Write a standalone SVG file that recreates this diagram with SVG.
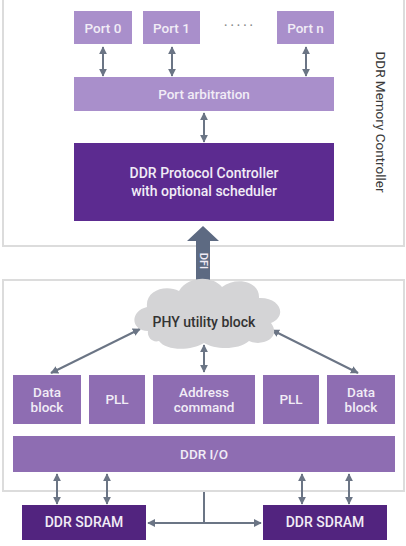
<svg xmlns="http://www.w3.org/2000/svg" width="406" height="546" viewBox="0 0 406 546">
<defs>
<style>
.frame{fill:#fff;stroke:#dcdcdc;stroke-width:2}
.lp{fill:#a98fcb}
.mp{fill:#8e6db2}
.dp{fill:#5c2b90}
.sd{fill:#52247f}
.t{font-family:Roboto,"Liberation Sans",sans-serif;font-size:13.5px;font-weight:500;fill:#f1ecf6;text-anchor:middle;dominant-baseline:central}
.dk{fill:#333}
.c{stroke:#6b7585;stroke-width:2;fill:none}
</style>
<marker id="ah" viewBox="0 0 10 10" refX="9" refY="5" markerWidth="4" markerHeight="4" orient="auto-start-reverse">
<path d="M0,0 L10,5 L0,10 z" fill="#6b7585"/>
</marker>
</defs>
<rect width="406" height="546" fill="#fff"/>
<g id="controller-frame">
<rect class="frame" x="3" y="-5" width="401" height="251"/>
<text class="t dk" style="font-weight:400;font-size:13.5px;fill:#3a3a3a" transform="translate(381,122) rotate(90)">DDR Memory Controller</text>
</g>
<g id="phy-frame">
<rect class="frame" x="3" y="280" width="401" height="211"/>
</g>
<g id="connectors">
<line class="c" x1="103" y1="47" x2="103" y2="76" marker-start="url(#ah)" marker-end="url(#ah)"/>
<line class="c" x1="172" y1="47" x2="172" y2="76" marker-start="url(#ah)" marker-end="url(#ah)"/>
<line class="c" x1="306" y1="47" x2="306" y2="76" marker-start="url(#ah)" marker-end="url(#ah)"/>
<line class="c" x1="204" y1="113" x2="204" y2="142" marker-start="url(#ah)" marker-end="url(#ah)"/>
<line class="c" x1="140" y1="329" x2="51" y2="373" marker-start="url(#ah)" marker-end="url(#ah)"/>
<line class="c" x1="272" y1="330" x2="358" y2="373" marker-start="url(#ah)" marker-end="url(#ah)"/>
<line class="c" x1="204" y1="345" x2="204" y2="372" marker-start="url(#ah)" marker-end="url(#ah)"/>
<line class="c" x1="57" y1="474" x2="57" y2="504" marker-start="url(#ah)" marker-end="url(#ah)"/>
<line class="c" x1="107" y1="474" x2="107" y2="504" marker-start="url(#ah)" marker-end="url(#ah)"/>
<line class="c" x1="302" y1="474" x2="302" y2="504" marker-start="url(#ah)" marker-end="url(#ah)"/>
<line class="c" x1="349" y1="474" x2="349" y2="504" marker-start="url(#ah)" marker-end="url(#ah)"/>
<line class="c" x1="204" y1="492" x2="204" y2="523"/>
<line class="c" x1="148" y1="523" x2="261" y2="523" marker-start="url(#ah)" marker-end="url(#ah)"/>
</g>
<g id="dfi">
<path d="M203,226 L219,241 L210,241 L210,284 L219,284 L203,299 L187,284 L196,284 L196,241 L187,241 Z" fill="#5d6a82"/>
<text class="t" style="font-size:11px" transform="translate(203,261) rotate(90)">DFI</text>
</g>
<g id="port0"><rect class="lp" x="74" y="11" width="58" height="33"/><text class="t" x="103" y="28">Port 0</text></g>
<g id="port1"><rect class="lp" x="143" y="11" width="57" height="33"/><text class="t" x="171.5" y="28">Port 1</text></g>
<g id="dots"><text class="t dk" style="fill:#888;font-size:12px;letter-spacing:3px" x="240" y="26">·····</text></g>
<g id="portn"><rect class="lp" x="277" y="11" width="57" height="33"/><text class="t" x="305.5" y="28">Port n</text></g>
<g id="arbitration"><rect class="lp" x="74" y="77" width="260" height="34"/><text class="t" x="204" y="94">Port arbitration</text></g>
<g id="protocol"><rect class="dp" x="74" y="143" width="260" height="78"/><text class="t" style="font-size:14px" x="204" y="173">DDR Protocol Controller</text><text class="t" style="font-size:14px" x="204" y="191">with optional scheduler</text></g>
<g id="phy-utility">
<path fill="#d4d4d6" d="M148,331 C130,330 130,311 147,307 C145,290 166,284 179,291 C188,276 212,275 222,287 C236,276 260,281 259,298 C280,297 288,316 271,323 C282,338 262,347 249,341 C237,351 214,349 204,343 C191,351 166,351 159,341 C152,343 147,337 148,331 Z"/>
<text class="t dk" style="font-size:14px" x="204" y="322">PHY utility block</text>
</g>
<g id="data-block-left"><rect class="mp" x="13" y="375" width="68" height="49"/><text class="t" x="47" y="392">Data</text><text class="t" x="47" y="407">block</text></g>
<g id="pll-left"><rect class="mp" x="89" y="375" width="56" height="49"/><text class="t" x="117" y="399">PLL</text></g>
<g id="address-command"><rect class="mp" x="153" y="375" width="102" height="49"/><text class="t" x="204" y="392">Address</text><text class="t" x="204" y="407">command</text></g>
<g id="pll-right"><rect class="mp" x="263" y="375" width="56" height="49"/><text class="t" x="291" y="399">PLL</text></g>
<g id="data-block-right"><rect class="mp" x="327" y="375" width="68" height="49"/><text class="t" x="361" y="392">Data</text><text class="t" x="361" y="407">block</text></g>
<g id="ddr-io"><rect class="mp" x="13" y="436" width="382" height="36"/><text class="t" x="204" y="454">DDR I/O</text></g>
<g id="sdram-left"><rect class="sd" x="22" y="505" width="124" height="35"/><text class="t" style="font-size:14px" x="84" y="522">DDR SDRAM</text></g>
<g id="sdram-right"><rect class="sd" x="263" y="505" width="124" height="35"/><text class="t" style="font-size:14px" x="325" y="522">DDR SDRAM</text></g>
</svg>
